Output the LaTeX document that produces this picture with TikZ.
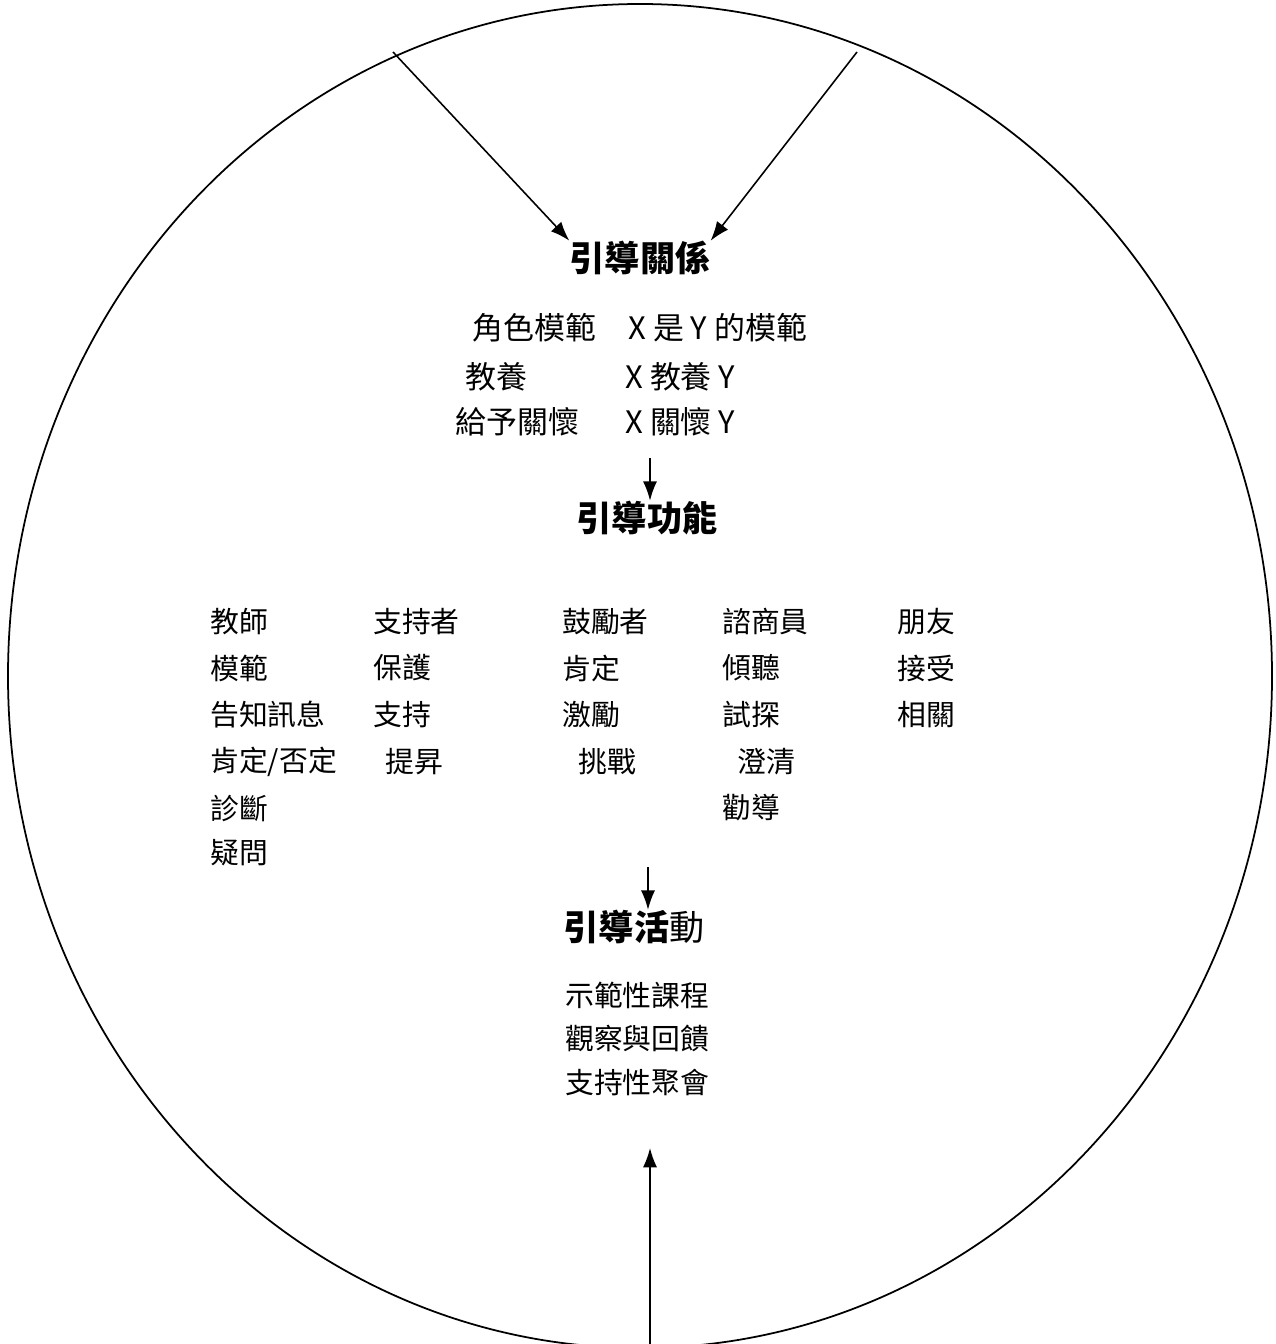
\documentclass[tikz,border=0pt]{standalone}
\usepackage{fontspec}
\setmainfont{Noto Sans CJK TC}
\usetikzlibrary{arrows.meta}

\tikzset{
  title/.style={font=\fontsize{20pt}{24pt}\selectfont\bfseries, inner sep=0pt},
  item/.style={font=\fontsize{16.4pt}{20pt}\selectfont, anchor=west, inner sep=0pt},
  relitem/.style={item, font=\fontsize{17.6pt}{21pt}\selectfont},
  arr/.style={-{Latex[length=11pt,width=8pt]}, line width=0.9pt}
}

\begin{document}
\begin{tikzpicture}[x=0.02cm, y=-0.02cm]
    % Page of the original scan
    \useasboundingbox (0,0) rectangle (1275,1344);

    % Draw the outer ellipse
    \draw[line width=1pt] (640,676) ellipse [x radius=632, y radius=672];

    % Titles
    \node[title] (rel) at (640,258) {引導關係};
    \node[title] (func) at (647,518) {引導功能};
    \node[title] (act) at (634,927) {引導活{\mdseries 動}};

    % Relation entries
    \node[relitem] (r1a) at (472,328) {角色模範};
    \node[relitem] (r1b) at (628,328) {X 是 Y 的模範};
    \node[relitem] (r2a) at (465,377) {教養};
    \node[relitem] (r2b) at (625,377) {X 教養 Y};
    \node[relitem] (r3a) at (455,422) {給予關懷};
    \node[relitem] (r3b) at (625,422) {X 關懷 Y};

    % Function entries, one column after another
    \node[item] (f11) at (210,622) {教師};
    \node[item] (f12) at (210,668) {模範};
    \node[item] (f13) at (210,715) {告知訊息};
    \node[item] (f14) at (210,762) {肯定/否定};
    \node[item] (f15) at (210,808) {診斷};
    \node[item] (f16) at (210,853) {疑問};

    \node[item] (f21) at (373,622) {支持者};
    \node[item] (f22) at (373,668) {保護};
    \node[item] (f23) at (373,715) {支持};
    \node[item] (f24) at (385,762) {提昇};

    \node[item] (f31) at (562,622) {鼓勵者};
    \node[item] (f32) at (562,668) {肯定};
    \node[item] (f33) at (562,715) {激勵};
    \node[item] (f34) at (578,762) {挑戰};

    \node[item] (f41) at (722,622) {諮商員};
    \node[item] (f42) at (722,668) {傾聽};
    \node[item] (f43) at (722,715) {試探};
    \node[item] (f44) at (737,762) {澄清};
    \node[item] (f45) at (722,808) {勸導};

    \node[item] (f51) at (897,622) {朋友};
    \node[item] (f52) at (897,668) {接受};
    \node[item] (f53) at (897,715) {相關};

    % Activity entries
    \node[item] (a1) at (565,995) {示範性課程};
    \node[item] (a2) at (565,1038) {觀察與回饋};
    \node[item] (a3) at (565,1083) {支持性聚會};

    % Arrows
    \coordinate (relA) at (393,52);
    \coordinate (relB) at (857,52);
    \coordinate (funcA) at (650,458);
    \coordinate (actA) at (648,867);
    \coordinate (supA) at (650,1344);
    \coordinate (supB) at (650,1148);

    \draw[arr] (relA) -- (rel.north west);
    \draw[arr] (relB) -- (rel.north east);
    \draw[arr] (funcA) -- (funcA |- func.north);
    \draw[arr] (actA) -- (actA |- act.north);
    \draw[arr] (supA) -- (supB);
\end{tikzpicture}
\end{document}
